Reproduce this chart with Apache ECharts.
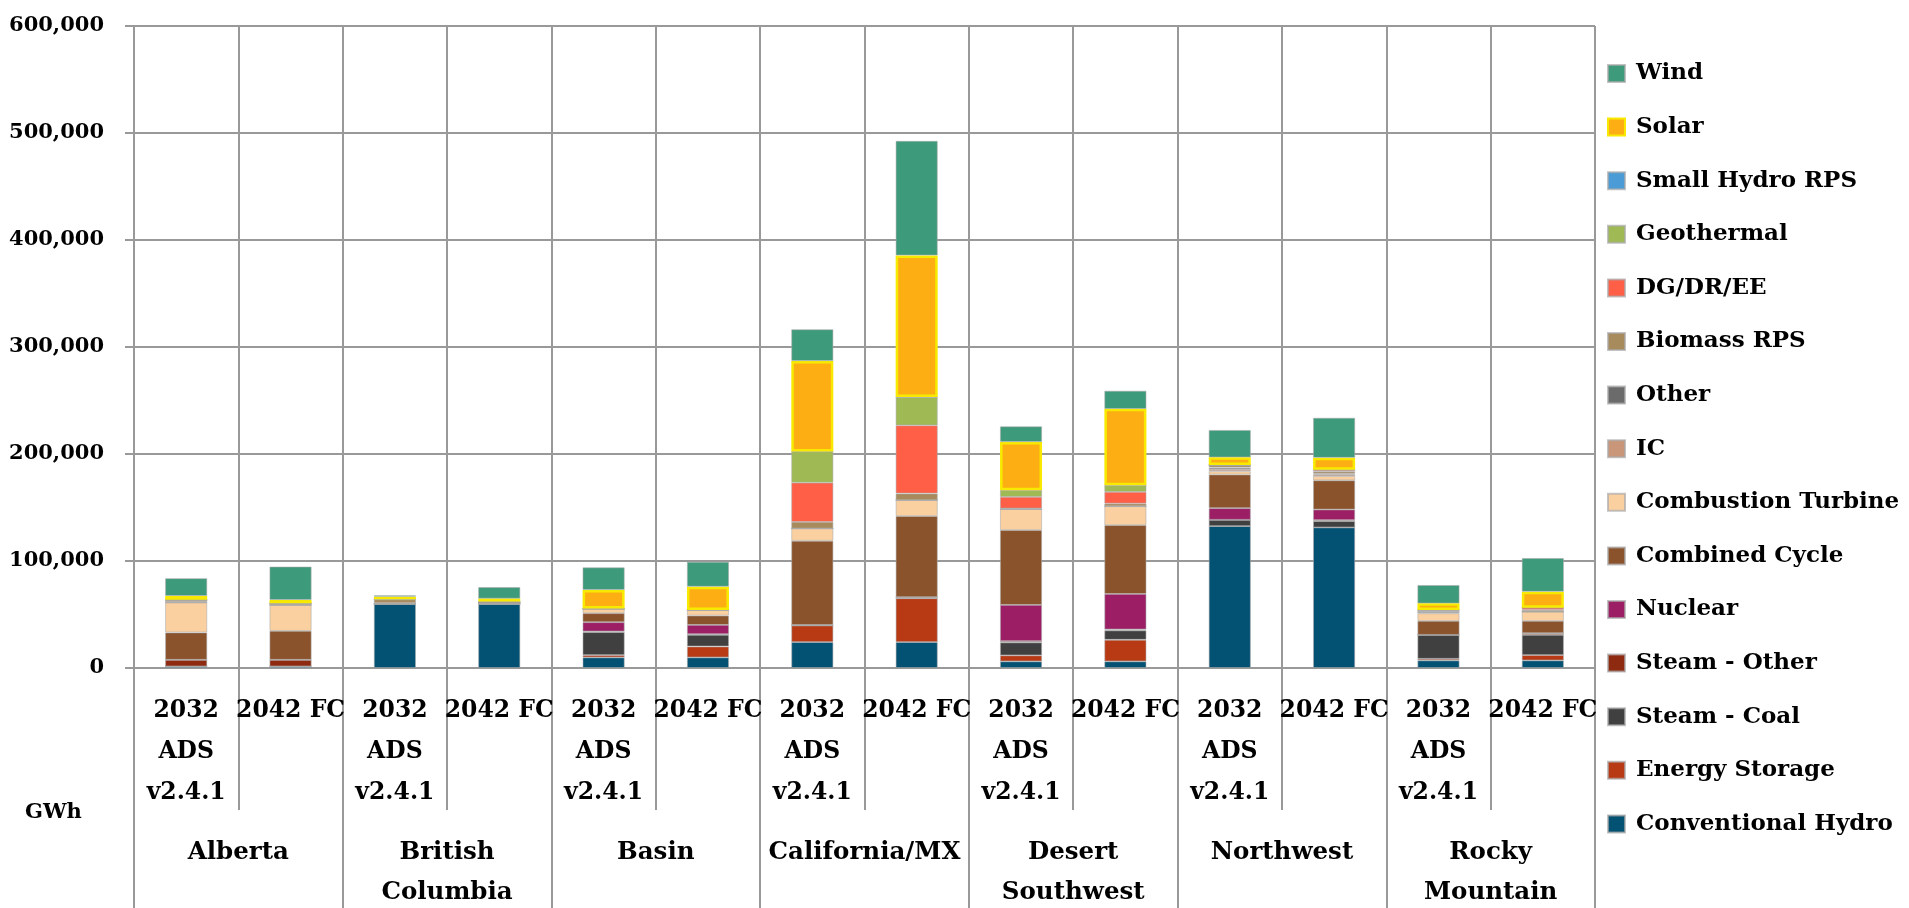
<!DOCTYPE html>
<html>
<head>
<meta charset="utf-8">
<script src="https://cdn.jsdelivr.net/npm/echarts@6/dist/echarts.min.js"></script>
<style>
html,body{margin:0;padding:0;background:#fff;}
#chart{width:1909px;height:908px;}
</style>
</head>
<body>
<div id="chart"></div>
<script>
// ---- Data (GWh) ----
const scenarios = ['2032\nADS\nv2.4.1','2042 FC','2032\nADS\nv2.4.1','2042 FC','2032\nADS\nv2.4.1','2042 FC','2032\nADS\nv2.4.1','2042 FC','2032\nADS\nv2.4.1','2042 FC','2032\nADS\nv2.4.1','2042 FC','2032\nADS\nv2.4.1','2042 FC'];
const regions = ['Alberta','British\nColumbia','Basin','California/MX','Desert\nSouthwest','Northwest','Rocky\nMountain'];
const yTicks = [0,100000,200000,300000,400000,500000,600000];

const conventionalHydro = [1500,1500,59900,59900,9900,9900,24200,24200,6200,6200,132600,131400,7100,7100];
const energyStorage     = [0,0,0,0,2200,10200,15500,41000,5600,20200,0,0,1500,5000];
const steamCoal         = [0,0,0,0,21400,10900,0,0,12100,8700,5900,5900,22400,18900];
const steamOther        = [6200,6200,0,0,600,600,600,1000,1200,900,0,900,0,1500];
const nuclear           = [0,0,0,0,8700,8700,0,0,33900,33200,10900,9900,0,0];
const combinedCycle     = [25500,27000,0,1000,8400,8700,78600,75800,69900,64300,31400,27300,13000,11500];
const combustionTurbine = [28000,24200,0,0,4300,5300,11500,14900,19600,17700,3100,4000,7100,8700];
const ic                = [0,0,0,0,0,0,0,0,0,0,2000,1500,1000,0];
const other             = [500,0,600,0,0,0,0,0,0,0,1500,800,0,0];
const biomassRPS        = [2000,1600,3700,1200,0,0,6200,6200,600,2500,2400,2000,1000,1500];
const dgDrEe            = [0,0,0,0,0,0,36600,63700,10900,10900,0,1600,1100,2200];
const geothermal        = [0,0,0,0,0,0,29200,26400,6200,6200,0,0,0,0];
const smallHydroRPS     = [0,0,0,0,0,0,0,0,0,0,0,0,0,0];
const solar             = [3700,3100,2500,2800,17400,21700,84500,132400,45000,71400,7100,11200,6200,14900];
const wind              = [16500,31100,1200,10600,21100,23300,29600,107000,14600,16900,25500,37300,17100,31400];

// stacking order bottom -> top
const seriesDefs = [
  ['Conventional Hydro', conventionalHydro, '#045273'],
  ['Energy Storage', energyStorage, '#B83A14'],
  ['Steam - Coal', steamCoal, '#404040'],
  ['Steam - Other', steamOther, '#8E2A10'],
  ['Nuclear', nuclear, '#9C1F66'],
  ['Combined Cycle', combinedCycle, '#8B532B'],
  ['Combustion Turbine', combustionTurbine, '#FAD0A0'],
  ['IC', ic, '#C9967A'],
  ['Other', other, '#6B6B6B'],
  ['Biomass RPS', biomassRPS, '#A88B5C'],
  ['DG/DR/EE', dgDrEe, '#FF5F46'],
  ['Geothermal', geothermal, '#9FBA54'],
  ['Small Hydro RPS', smallHydroRPS, '#4A9BD6'],
  ['Solar', solar, '#FDAE12'],
  ['Wind', wind, '#3D9A7B']
];

const FONT = 'DejaVu Serif';
const chart = echarts.init(document.getElementById('chart'), null, {renderer:'canvas'});

const series = seriesDefs.map(([name, data, color]) => ({
  name, type:'bar', stack:'total', data, barWidth:42,
  xAxisIndex:0,
  itemStyle: name === 'Solar'
    ? {color, borderColor:'#F7EA00', borderWidth:2.5}
    : {color, borderColor:'rgba(170,170,170,0.7)', borderWidth:0.8},
  emphasis:{disabled:true}
}));

const legendOrder = seriesDefs.map(d => d[0]).reverse();

chart.setOption({
  animation:false,
  backgroundColor:'#fff',
  grid:{left:134, right:314, top:26, bottom:240, containLabel:false, outerBoundsMode:'none'},
  legend:{
    orient:'vertical', left:1602, top:57,
    data: legendOrder,
    itemWidth:17, itemHeight:17, itemGap:30.6,
    icon:'rect',
    textStyle:{fontFamily:FONT, fontWeight:'bold', fontSize:23, color:'#000', lineHeight:17, padding:[0,0,0,6]}
  },
  xAxis:[
    {
      type:'category', data:scenarios, position:'bottom',
      axisLine:{show:true, lineStyle:{color:'#999', width:2}},
      axisTick:{show:true, interval:0, length:142, lineStyle:{color:'#999', width:2}},
      splitLine:{show:true, interval:0, lineStyle:{color:'#999', width:2}},
      axisLabel:{interval:0, margin:22, fontFamily:FONT, fontWeight:'bold', fontSize:23.5, lineHeight:41, color:'#000', verticalAlign:'top'}
    },
    {
      type:'category', data:regions, position:'bottom', offset:142,
      axisLine:{show:false},
      axisTick:{show:true, interval:0, length:100, lineStyle:{color:'#999', width:2}},
      splitLine:{show:false},
      axisLabel:{interval:0, margin:23, fontFamily:FONT, fontWeight:'bold', fontSize:24.5, lineHeight:40, color:'#000', verticalAlign:'top'}
    }
  ],
  yAxis:{
    type:'value', min:0, max:600000, interval:100000,
    axisLine:{show:true, lineStyle:{color:'#999', width:2}},
    axisTick:{show:true, length:9, lineStyle:{color:'#999', width:2}},
    splitLine:{show:true, lineStyle:{color:'#999', width:2}},
    axisLabel:{margin:30, fontFamily:FONT, fontWeight:'bold', fontSize:21, color:'#000',
      formatter: v => yTicks.includes(v) ? v.toLocaleString('en-US') : ''}
  },
  graphic:[{
    type:'text', left:25, top:802,
    style:{text:'GWh', fontFamily:FONT, fontWeight:'bold', fontSize:21, fill:'#000'}
  }],
  series
});
</script>
</body>
</html>
